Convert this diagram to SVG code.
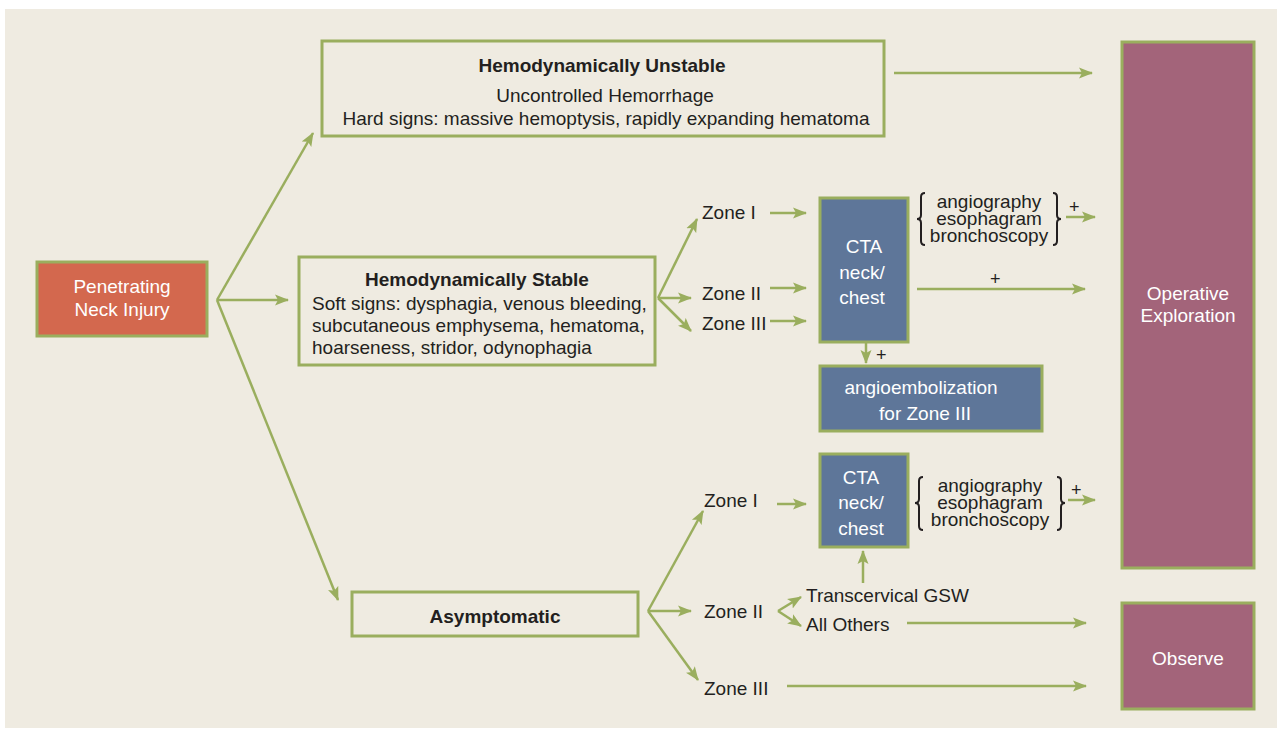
<svg xmlns="http://www.w3.org/2000/svg" width="1282" height="731" viewBox="0 0 1282 731">
<defs>
<marker id="ah" markerUnits="userSpaceOnUse" markerWidth="14" markerHeight="12" viewBox="0 0 14 12" refX="13" refY="6" orient="auto">
<path d="M0,0.5 L14,6 L0,11.5 L3,6 Z" fill="#9aae5e"/>
</marker>
</defs>
<style>
.bg{fill:#efebe1}
.box{fill:none;stroke:#9aae5e;stroke-width:3}
.org{fill:#d3684e;stroke:#9aae5e;stroke-width:3}
.blu{fill:#5e7699;stroke:#9aae5e;stroke-width:3}
.mau{fill:#a3647a;stroke:#9aae5e;stroke-width:3}
.ln{fill:none;stroke:#9aae5e;stroke-width:2.5;marker-end:url(#ah)}
.br{fill:none;stroke:#231f20;stroke-width:2}
text{font-family:"Liberation Sans",Arial,sans-serif;font-size:19px;fill:#231f20}
.w{fill:#ffffff}
.b{font-weight:bold}
.c{text-anchor:middle}
.p{font-size:18px}
</style>
<rect x="0" y="0" width="1282" height="731" fill="#ffffff"/>
<rect class="bg" x="5" y="9" width="1272" height="719"/>

<g id="connectors">
<line class="ln" x1="217" y1="300" x2="313" y2="133"/>
<line class="ln" x1="217" y1="300" x2="288" y2="300"/>
<line class="ln" x1="217" y1="300" x2="338" y2="600"/>
<line class="ln" x1="894" y1="73" x2="1092" y2="73"/>
<line class="ln" x1="658" y1="298" x2="697" y2="219"/>
<line class="ln" x1="658" y1="298" x2="691" y2="298"/>
<line class="ln" x1="658" y1="298" x2="691" y2="331"/>
<line class="ln" x1="770" y1="213" x2="806" y2="213"/>
<line class="ln" x1="770" y1="288" x2="806" y2="288"/>
<line class="ln" x1="770" y1="321" x2="806" y2="321"/>
<line class="ln" x1="1066" y1="217" x2="1095" y2="217"/>
<line class="ln" x1="917" y1="289" x2="1085" y2="289"/>
<line class="ln" x1="866" y1="343" x2="866" y2="363"/>
<line class="ln" x1="648" y1="611" x2="703" y2="511"/>
<line class="ln" x1="648" y1="611" x2="691" y2="611"/>
<line class="ln" x1="648" y1="611" x2="698" y2="680"/>
<line class="ln" x1="777" y1="504" x2="806" y2="504"/>
<line class="ln" x1="778" y1="611" x2="801" y2="597"/>
<line class="ln" x1="778" y1="611" x2="801" y2="626"/>
<line class="ln" x1="863" y1="583" x2="863" y2="551"/>
<line class="ln" x1="907" y1="623" x2="1086" y2="623"/>
<line class="ln" x1="787" y1="686" x2="1086" y2="686"/>
<line class="ln" x1="1068" y1="500" x2="1095" y2="500"/>
</g>

<g id="pni">
<rect class="org" x="37" y="262" width="170" height="74"/>
<text class="w c" x="122" y="293">Penetrating</text>
<text class="w c" x="122" y="316">Neck Injury</text>
</g>

<g id="unstable">
<rect class="box" x="322" y="41" width="562" height="95"/>
<text class="b c" x="602" y="72">Hemodynamically Unstable</text>
<text class="c" x="605" y="102">Uncontrolled Hemorrhage</text>
<text class="c" x="606" y="125">Hard signs: massive hemoptysis, rapidly expanding hematoma</text>
</g>

<g id="stable">
<rect class="box" x="299" y="257" width="356" height="108"/>
<text class="b c" x="477" y="286">Hemodynamically Stable</text>
<text x="312" y="310">Soft signs: dysphagia, venous bleeding,</text>
<text x="312" y="332">subcutaneous emphysema, hematoma,</text>
<text x="312" y="354">hoarseness, stridor, odynophagia</text>
</g>

<g id="asymptomatic">
<rect class="box" x="352" y="592" width="286" height="44"/>
<text class="b c" x="495" y="623">Asymptomatic</text>
</g>

<g id="zones-stable">
<text x="702" y="219">Zone I</text>
<text x="702" y="300">Zone II</text>
<text x="702" y="330">Zone III</text>
</g>

<g id="cta1">
<rect class="blu" x="820" y="198" width="88" height="144"/>
<text class="w c" x="864" y="253">CTA</text>
<text class="w c" x="862" y="279">neck/</text>
<text class="w c" x="862" y="304">chest</text>
</g>

<g id="tests1">
<path class="br" d="M925 193 Q921 193 921 197 L921 215 Q921 219 917 219 Q921 219 921 223 L921 241 Q921 245 925 245"/>
<path class="br" d="M1053 193 Q1057 193 1057 197 L1057 215 Q1057 219 1061 219 Q1057 219 1057 223 L1057 241 Q1057 245 1053 245"/>
<text class="c" x="989" y="208">angiography</text>
<text class="c" x="989" y="225">esophagram</text>
<text class="c" x="989" y="242">bronchoscopy</text>
<text class="p" x="1069" y="213">+</text>
<text class="p" x="990" y="285">+</text>
<text class="p" x="876" y="361">+</text>
</g>

<g id="angioemb">
<rect class="blu" x="820" y="366" width="222" height="65"/>
<text class="w c" x="921" y="394">angioembolization</text>
<text class="w c" x="925" y="420">for Zone III</text>
</g>

<g id="zones-asym">
<text x="704" y="507">Zone I</text>
<text x="704" y="618">Zone II</text>
<text x="704" y="695">Zone III</text>
<text x="806" y="602">Transcervical GSW</text>
<text x="806" y="631">All Others</text>
</g>

<g id="cta2">
<rect class="blu" x="820" y="454" width="88" height="93"/>
<text class="w c" x="861" y="484">CTA</text>
<text class="w c" x="861" y="509">neck/</text>
<text class="w c" x="861" y="535">chest</text>
</g>

<g id="tests2">
<path class="br" d="M923 477 Q919 477 919 481 L919 499 Q919 503 915 503 Q919 503 919 507 L919 526 Q919 530 923 530"/>
<path class="br" d="M1057 477 Q1061 477 1061 481 L1061 499 Q1061 503 1065 503 Q1061 503 1061 507 L1061 526 Q1061 530 1057 530"/>
<text class="c" x="990" y="492">angiography</text>
<text class="c" x="990" y="509">esophagram</text>
<text class="c" x="990" y="526">bronchoscopy</text>
<text class="p" x="1071" y="496">+</text>
</g>

<g id="operative">
<rect class="mau" x="1122" y="42" width="132" height="526"/>
<text class="w c" x="1188" y="300">Operative</text>
<text class="w c" x="1188" y="322">Exploration</text>
</g>

<g id="observe">
<rect class="mau" x="1122" y="603" width="132" height="106"/>
<text class="w c" x="1188" y="665">Observe</text>
</g>
</svg>
